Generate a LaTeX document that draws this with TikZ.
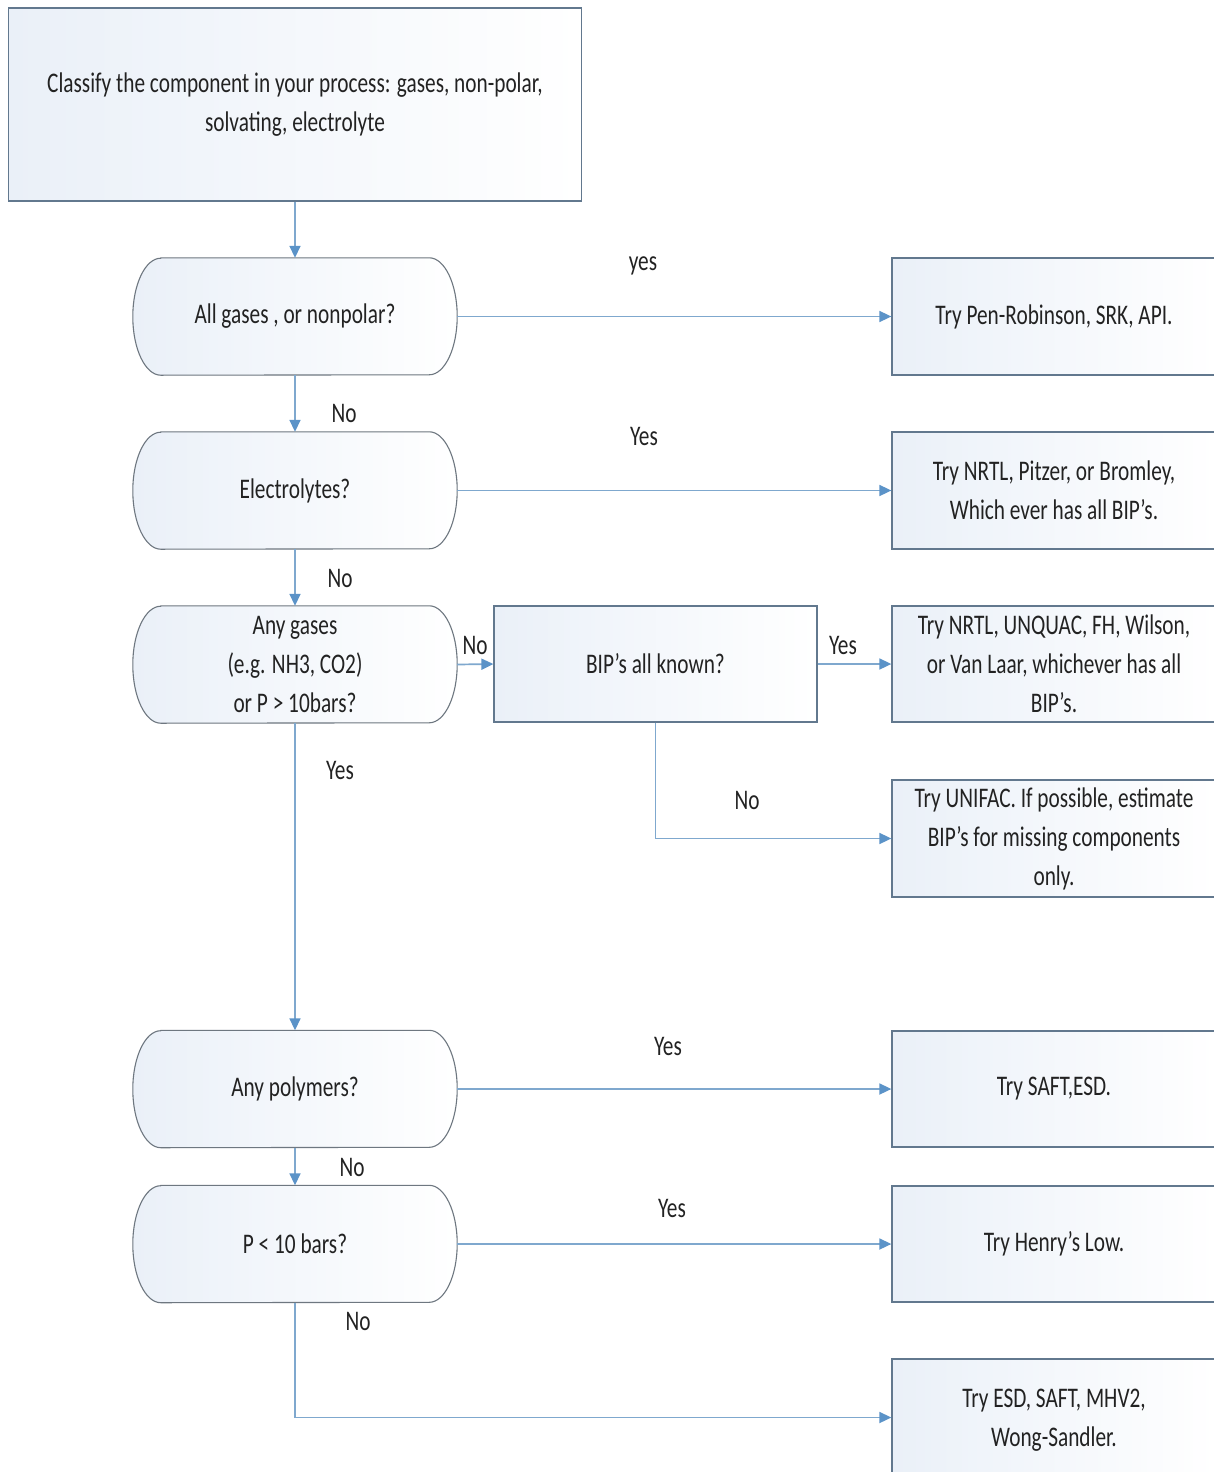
\documentclass[tikz,border=0pt]{standalone}
\usepackage{fontspec}
\setmainfont{Carlito}[FakeStretch=0.75]
\usetikzlibrary{arrows.meta}
\definecolor{bordc}{HTML}{62788E}
\definecolor{termc}{HTML}{6E7780}
\definecolor{linec}{HTML}{7FA8CE}
\definecolor{headc}{HTML}{5B93C8}
\definecolor{fillL}{HTML}{EAF0F8}
\definecolor{txtc}{HTML}{222222}
\tikzset{
  x=1pt, y=1pt,
  txt/.style={text=txtc, font=\fontsize{28.4}{39}\selectfont, align=center},
  box/.style={txt, draw=bordc, line width=1.3pt, left color=fillL, right color=white, inner sep=0pt},
  term/.style={txt, rectangle, inner sep=0pt, minimum width=324pt, minimum height=117pt},
  termline/.style={draw=termc, line width=1.1pt, left color=fillL, right color=white},
  arr/.style={draw=linec, line width=1.7pt, -{Triangle[length=12pt,width=11pt,color=headc]}},
  lbl/.style={txt}
}
\newcommand{\termshape}[1]{%
  \path[termline] ([xshift=28pt]#1.north west) -- ([xshift=-28pt]#1.north east)
    arc[start angle=90, end angle=-90, x radius=28pt, y radius=58.5pt]
    -- ([xshift=28pt]#1.south west)
    arc[start angle=270, end angle=90, x radius=28pt, y radius=58.5pt] -- cycle;}
\begin{document}
\begin{tikzpicture}
\useasboundingbox (0,0) rectangle (1214,-1472);
\fill[white] (0,0) rectangle (1214,-1472);

% top box
\node[box, minimum width=573pt, minimum height=193pt] (top) at (295,-104.5)
  {Classify the component in your process: gases, non-polar,\\ solvating, electrolyte};

% terminal shapes (drawn first, text nodes on top)
\path node[term] (t1) at (295,-316.5) {}
      node[term] (t2) at (295,-490.5) {}
      node[term] (t3) at (295,-664.5) {}
      node[term] (t4) at (295,-1089) {}
      node[term] (t5) at (295,-1244) {};
\termshape{t1}\termshape{t2}\termshape{t3}\termshape{t4}\termshape{t5}
\node[txt] (t1t) at (t1) {All gases , or nonpolar?};
\node[txt] (t2t) at (t2) {Electrolytes?};
\node[txt] (t3t) at (t3) {Any gases\\ (e.g. NH3, CO2)\\ or P > 10bars?};
\node[txt] (t4t) at (t4) {Any polymers?};
\node[txt] (t5t) at (t5) {P < 10 bars?};

% BIP box
\node[box, minimum width=323pt, minimum height=116pt] (bip) at (655.5,-664) {BIP’s all known?};

% right boxes
\node[box, minimum width=324pt, minimum height=117pt] (r1) at (1054,-316.5) {Try Pen-Robinson, SRK, API.};
\node[box, minimum width=324pt, minimum height=117pt] (r2) at (1054,-490.5) {Try NRTL, Pitzer, or Bromley,\\ Which ever has all BIP’s.};
\node[box, minimum width=324pt, minimum height=116pt] (r3) at (1054,-664) {Try NRTL, UNQUAC, FH, Wilson,\\ or Van Laar, whichever has all\\ BIP’s.};
\node[box, minimum width=324pt, minimum height=117pt] (r4) at (1054,-838.5) {Try UNIFAC. If possible, estimate\\ BIP’s for missing components\\ only.};
\node[box, minimum width=324pt, minimum height=116pt] (r5) at (1054,-1089) {Try SAFT,ESD.};
\node[box, minimum width=324pt, minimum height=116pt] (r6) at (1054,-1244) {Try Henry’s Low.};
\node[box, minimum width=324pt, minimum height=117pt, text depth=0pt] (r7) at (1054,-1417.5) {Try ESD, SAFT, MHV2,\\ Wong-Sandler.};

% connectors
\draw[arr] (top.south) -- (t1.north);
\draw[arr] (t1.east) -- (r1.west);
\draw[arr] (t1.south) -- (t2.north);
\draw[arr] (t2.east) -- (r2.west);
\draw[arr] (t2.south) -- (t3.north);
\draw[arr] (t3.east) -- (bip.west);
\draw[arr] (bip.east) -- (r3.west);
\draw[arr] (bip.south) |- (r4.west);
\draw[arr] (t3.south) -- (t4.north);
\draw[arr] (t4.east) -- (r5.west);
\draw[arr] (t4.south) -- (t5.north);
\draw[arr] (t5.east) -- (r6.west);
\draw[arr] (t5.south) |- (r7.west);

% labels
\node[lbl] (l1) at (643,-266) {yes};
\node[lbl] (l2) at (344,-413) {No};
\node[lbl] (l3) at (644,-436) {Yes};
\node[lbl] (l4) at (340,-578) {No};
\node[lbl] (l5) at (475,-645) {No};
\node[lbl] (l6) at (843,-645) {Yes};
\node[lbl] (l7) at (340,-770) {Yes};
\node[lbl] (l8) at (747,-800) {No};
\node[lbl] (l9) at (668,-1046) {Yes};
\node[lbl] (l10) at (352,-1167) {No};
\node[lbl] (l11) at (672,-1208) {Yes};
\node[lbl] (l12) at (358,-1321) {No};
\end{tikzpicture}
\end{document}
